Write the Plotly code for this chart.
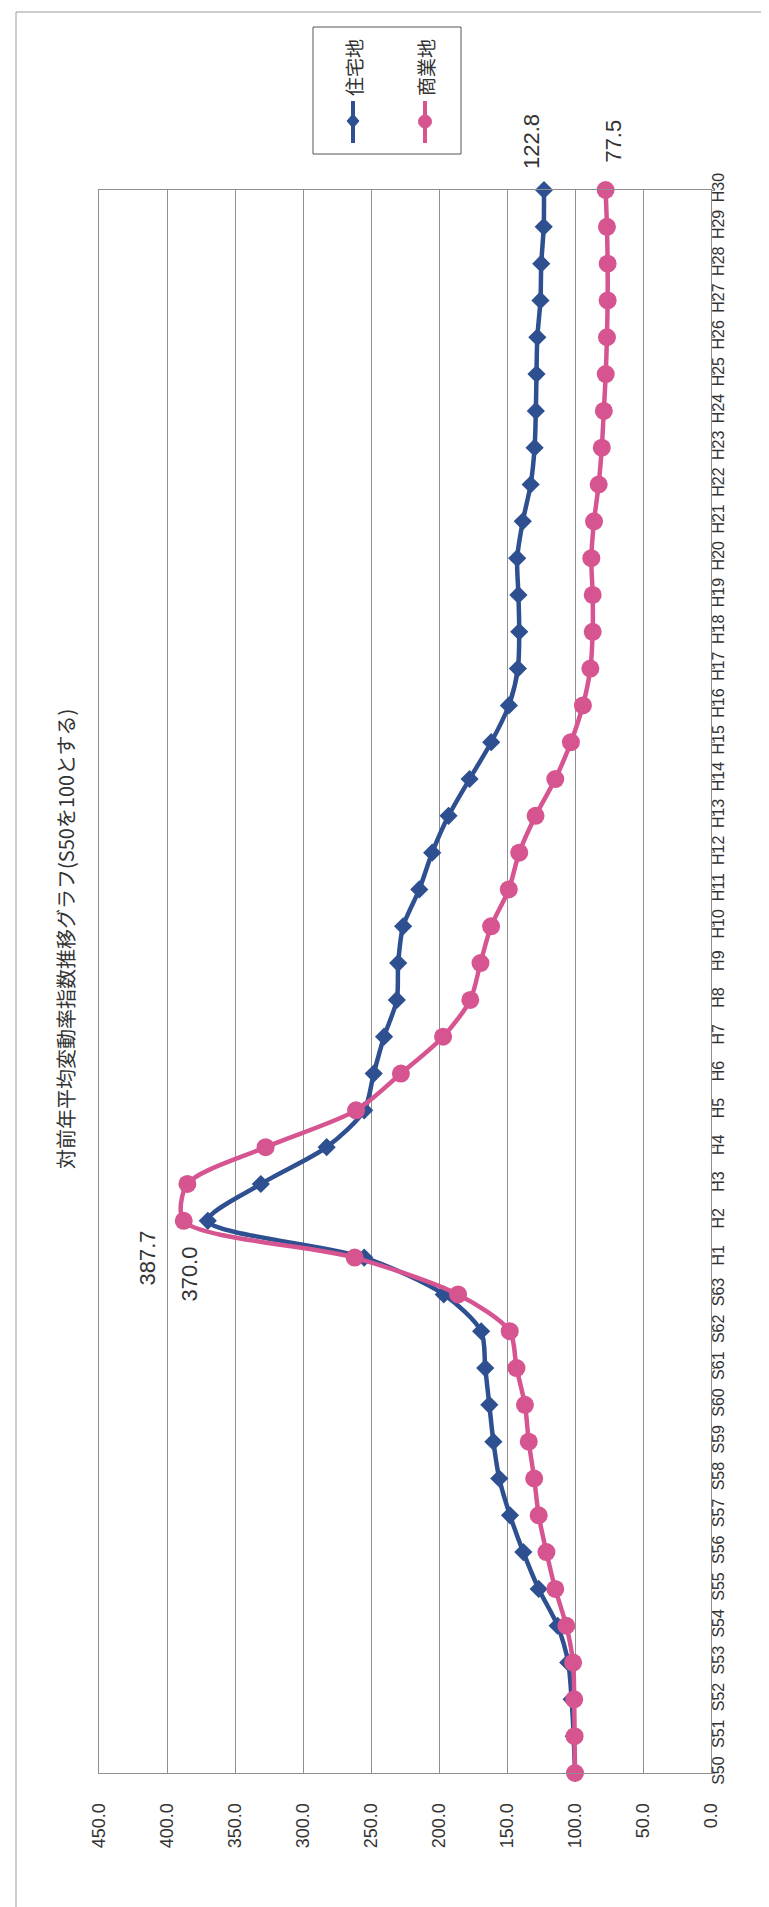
import plotly.graph_objects as go

# ---- data ----
categories = ["S50", "S51", "S52", "S53", "S54", "S55", "S56", "S57", "S58", "S59",
              "S60", "S61", "S62", "S63", "H1", "H2", "H3", "H4", "H5", "H6",
              "H7", "H8", "H9", "H10", "H11", "H12", "H13", "H14", "H15", "H16",
              "H17", "H18", "H19", "H20", "H21", "H22", "H23", "H24", "H25", "H26",
              "H27", "H28", "H29", "H30"]

residential = [100.0, 101.0, 102.5, 105.0, 112.8, 126.7, 138.0, 147.8, 155.7, 160.0,
               163.0, 166.0, 169.0, 196.5, 255.0, 370.0, 331.0, 282.6, 255.0, 248.0,
               240.4, 231.0, 230.0, 226.4, 214.5, 205.0, 193.0, 177.5, 161.6, 148.6,
               142.0, 141.0, 141.6, 142.5, 138.4, 132.6, 129.7, 128.8, 128.3, 127.7,
               125.4, 124.8, 123.0, 122.8]

commercial = [100.0, 100.3, 100.6, 101.4, 106.4, 114.5, 121.0, 126.7, 130.0, 134.0,
              136.8, 143.0, 148.0, 186.0, 262.0, 387.7, 385.0, 327.5, 261.0, 228.0,
              197.0, 177.0, 169.5, 161.7, 148.7, 141.0, 129.0, 114.5, 103.0, 94.2,
              88.7, 87.0, 87.0, 88.0, 86.0, 82.6, 80.3, 78.8, 77.4, 76.5,
              76.0, 76.0, 76.5, 77.5]

series_names = ["住宅地", "商業地"]
title_text = "対前年平均変動率指数推移グラフ(S50を100とする)"
value_ticks = [0, 50, 100, 150, 200, 250, 300, 350, 400, 450]

# labelled points: (series, category index)
labelled = [("res", 15), ("com", 15), ("res", 43), ("com", 43)]

# ---- style ----
BLUE = "#2E5090"
PINK = "#D65590"
GRID = "#8f8f8f"
TXT = "#333333"
W, H = 769, 1907
L, R, T, B = 91, 66, 182, 142
PW, PH = W - L - R, H - T - B


def px(xp):
    return (xp - L) / PW


def py(yp):
    return (H - B - yp) / PH


fig = go.Figure()
fig.add_trace(go.Scatter(
    x=residential, y=categories, mode="lines+markers", name=series_names[0],
    line=dict(color=BLUE, width=4.5, shape="spline", smoothing=0.8),
    marker=dict(symbol="diamond", size=14, color=BLUE),
    cliponaxis=False))
fig.add_trace(go.Scatter(
    x=commercial, y=categories, mode="lines+markers", name=series_names[1],
    line=dict(color=PINK, width=4.5, shape="spline", smoothing=0.8),
    marker=dict(symbol="circle", size=18, color=PINK),
    cliponaxis=False))

annotations = []
# data labels
offsets = {("res", 15): (-18, -53), ("com", 15): (-36, -37),
           ("res", 43): (-13, 49), ("com", 43): (7, 49)}
for ser, idx in labelled:
    vals = residential if ser == "res" else commercial
    dx, dy = offsets[(ser, idx)]
    annotations.append(dict(
        x=vals[idx], y=categories[idx], xref="x", yref="y",
        text=f"{vals[idx]:.1f}", showarrow=False, textangle=-90,
        xshift=dx, yshift=dy,
        font=dict(family="Arial, Liberation Sans", size=22, color=TXT)))

# title
annotations.append(dict(
    x=px(57), y=py(931), xref="paper", yref="paper", text=title_text,
    showarrow=False, textangle=-90, xanchor="center", yanchor="middle",
    font=dict(family="Noto Sans CJK JP", size=20, color=TXT)))

# legend texts
for name, cx in zip(series_names, [345, 417]):
    annotations.append(dict(
        x=px(cx), y=py(60), xref="paper", yref="paper", text=name,
        showarrow=False, textangle=-90, xanchor="center", yanchor="middle",
        font=dict(family="Noto Sans CJK JP", size=19, color=TXT)))

shapes = []
# outer frame
shapes.append(dict(type="rect", xref="paper", yref="paper",
                   x0=px(8), x1=px(764), y0=py(4), y1=py(1904),
                   line=dict(color="#9a9a9a", width=1)))
# legend box
shapes.append(dict(type="rect", xref="paper", yref="paper",
                   x0=px(305), x1=px(453), y0=py(19), y1=py(146),
                   line=dict(color="#555555", width=1), fillcolor="white"))
# legend symbols
for cx, col, kind in [(345, BLUE, "diamond"), (417, PINK, "circle")]:
    shapes.append(dict(type="line", xref="paper", yref="paper",
                       x0=px(cx), x1=px(cx), y0=py(93), y1=py(135),
                       line=dict(color=col, width=4)))
    if kind == "circle":
        shapes.append(dict(type="circle", xref="paper", yref="paper",
                           x0=px(cx - 6.5), x1=px(cx + 6.5), y0=py(107), y1=py(120),
                           fillcolor=col, line=dict(color=col, width=1)))
    else:
        path = (f"M {px(cx)} {py(106)} L {px(cx + 6)} {py(113)} "
                f"L {px(cx)} {py(120)} L {px(cx - 6)} {py(113)} Z")
        shapes.append(dict(type="path", xref="paper", yref="paper", path=path,
                           fillcolor=col, line=dict(color=col, width=1)))

fig.update_layout(
    width=W, height=H,
    margin=dict(l=L, r=R, t=T, b=B, pad=0),
    paper_bgcolor="white", plot_bgcolor="white",
    showlegend=False,
    annotations=annotations, shapes=shapes,
    font=dict(family="Arial, Liberation Sans", color=TXT),
    xaxis=dict(
        range=[450, 0], tickmode="array", tickvals=value_ticks,
        ticktext=[f"{v:.1f}" for v in value_ticks],
        tickangle=-90, showgrid=True, gridcolor=GRID, gridwidth=1,
        showline=True, linecolor=GRID, linewidth=1, mirror=True,
        zeroline=False, ticks="", ticklabelstandoff=22,
        tickfont=dict(size=18, color=TXT)),
    yaxis=dict(
        type="category", categoryorder="array", categoryarray=categories,
        range=[0, len(categories) - 1], side="right",
        tickmode="array", tickvals=categories, ticktext=categories,
        tickangle=-90, showgrid=False,
        showline=True, linecolor=GRID, linewidth=1, mirror=True,
        ticks="outside", ticklen=3, tickcolor=GRID, ticklabelstandoff=-10,
        tickfont=dict(size=16, color=TXT)),
)

fig.write_html("out.html")
